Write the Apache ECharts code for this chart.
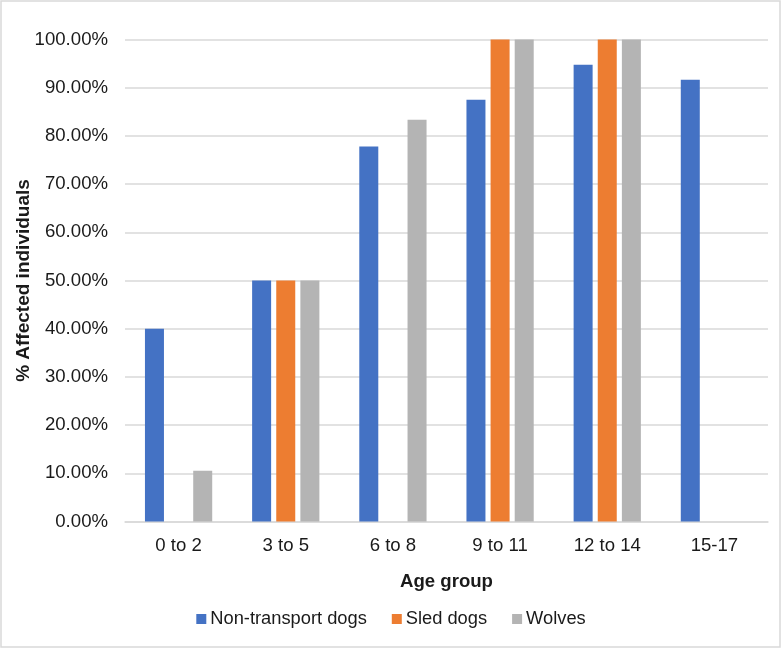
<!DOCTYPE html>
<html>
<head>
<meta charset="utf-8">
<script src="https://cdn.jsdelivr.net/npm/echarts@6/dist/echarts.min.js"></script>
<style>
html,body{margin:0;padding:0;background:#fff;}
#c{width:782px;height:648px;}
</style>
</head>
<body>
<div id="c"></div>
<script>
const categories = ['0 to 2', '3 to 5', '6 to 8', '9 to 11', '12 to 14', '15-17'];
const nonTransportDogs = [0.40, 0.50, 0.7778, 0.875, 0.9474, 0.9167];
const sledDogs = [null, 0.50, null, 1.00, 1.00, null];
const wolves = [0.1053, 0.50, 0.8333, 1.00, 1.00, null];
const seriesNames = ['Non-transport dogs', 'Sled dogs', 'Wolves'];
const colors = ['#4472C4', '#ED7D31', '#B4B4B4'];

const FONT = '"Liberation Sans", Arial, sans-serif';
const TXT = '#1a1a1a';

const chart = echarts.init(document.getElementById('c'), null, {renderer: 'canvas'});
const dataSets = [nonTransportDogs, sledDogs, wolves];
chart.setOption({
  animation: false,
  backgroundColor: '#fff',
  textStyle: {fontFamily: FONT},
  graphic: [{
    type: 'rect',
    shape: {x: 1, y: 1, width: 779, height: 646},
    style: {fill: 'none', stroke: '#d9d9d9', lineWidth: 1.5},
    silent: true
  }],
  grid: {left: 125, right: 14, top: 39.5, bottom: 126.5, containLabel: false, outerBoundsMode: 'none'},
  legend: {
    data: seriesNames,
    left: 'center',
    top: 605,
    itemWidth: 10,
    itemHeight: 10,
    itemGap: 25,
    icon: 'rect',
    textStyle: {fontSize: 18.3, color: TXT, fontFamily: FONT, padding: [0, 0, 0, -1]}
  },
  xAxis: {
    type: 'category',
    data: categories,
    name: 'Age group',
    nameLocation: 'middle',
    nameGap: 51,
    nameTextStyle: {fontSize: 18.6, fontWeight: 'bold', color: TXT, fontFamily: FONT},
    axisLine: {lineStyle: {color: '#d9d9d9', width: 1.5}},
    axisTick: {show: false},
    axisLabel: {fontSize: 18.6, color: TXT, margin: 15, fontFamily: FONT}
  },
  yAxis: {
    type: 'value',
    min: 0,
    max: 1,
    interval: 0.1,
    name: '% Affected individuals',
    nameLocation: 'middle',
    nameGap: 92,
    nameMoveOverlap: false,
    nameRotate: 90,
    nameTextStyle: {fontSize: 19, fontWeight: 'bold', color: TXT, fontFamily: FONT},
    axisLine: {show: false},
    axisTick: {show: false},
    splitLine: {lineStyle: {color: '#d9d9d9', width: 1.5}},
    axisLabel: {
      fontSize: 18.6, color: TXT, margin: 17, fontFamily: FONT,
      formatter: v => (v * 100).toFixed(2) + '%'
    }
  },
  series: seriesNames.map((n, i) => ({
    name: n,
    type: 'bar',
    data: dataSets[i],
    barWidth: 19,
    barGap: '27%',
    itemStyle: {color: colors[i]}
  }))
});
</script>
</body>
</html>
